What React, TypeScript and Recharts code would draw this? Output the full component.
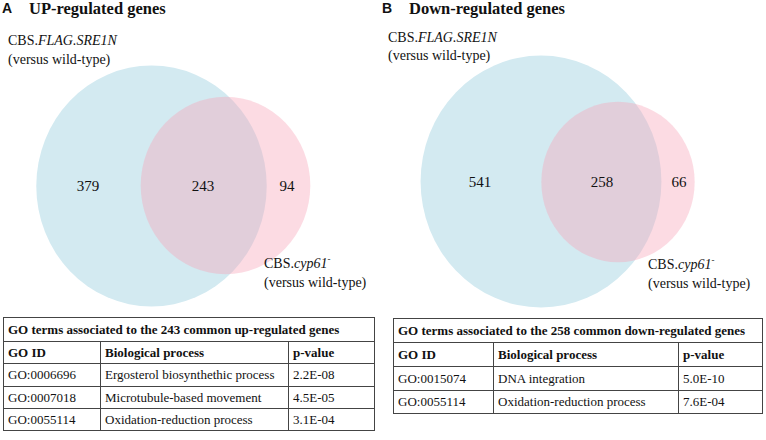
import React from 'react';
import { ScatterChart, Scatter, XAxis, YAxis, ZAxis } from 'recharts';

// ---------- data ----------
const panelLetters = ['A', 'B'];
const panelTitles = ['UP-regulated genes', 'Down-regulated genes'];
const onlySRE1N = [379, 541];
const commonGenes = [243, 258];
const onlyCyp61 = [94, 66];

const upGoIds = ['GO:0006696', 'GO:0007018', 'GO:0055114'];
const upProcesses = ['Ergosterol biosynthethic process', 'Microtubule-based movement', 'Oxidation-reduction process'];
const upPValues = ['2.2E-08', '4.5E-05', '3.1E-04'];

const downGoIds = ['GO:0015074', 'GO:0055114'];
const downProcesses = ['DNA integration', 'Oxidation-reduction process'];
const downPValues = ['5.0E-10', '7.6E-04'];

const tableHeaders = ['GO ID', 'Biological process', 'p-value'];

// ---------- layout (positions / styles) ----------
const W = 766;
const H = 440;
const SERIF = '"Liberation Serif", "Times New Roman", serif';
const SANS = '"Liberation Sans", Arial, sans-serif';
const BLUE = '#d3eaf1';
const PINK = '#f7a6b8';
const ASPECT = 1.046;
// centres of the set ellipses and of the count labels, per panel
const setCentres = [
  { blue: [151.5, 186], pink: [225.5, 185.5], labels: [[88, 186], [203, 186], [287, 186]] },
  { blue: [541, 181.5], pink: [618, 182], labels: [[480, 182], [602, 182], [679, 182]] },
];
const zMax = 1000;
const zRangeA = Math.PI * 4.62 * 4.62 * zMax;
const zRangeB = Math.PI * 4.26 * 4.26 * zMax;

const setData = (i: number) => [
  { x: setCentres[i].blue[0], y: setCentres[i].blue[1], z: onlySRE1N[i] + commonGenes[i], color: BLUE, op: 1 },
  { x: setCentres[i].pink[0], y: setCentres[i].pink[1], z: commonGenes[i] + onlyCyp61[i], color: PINK, op: 0.4 },
];
const countData = (i: number) => [onlySRE1N[i], commonGenes[i], onlyCyp61[i]].map((v, k) => ({
  x: setCentres[i].labels[k][0],
  y: setCentres[i].labels[k][1],
  z: 1,
  v,
}));

const EllipseShape = (props: any) => {
  const { cx, cy, payload } = props;
  let r = props.width != null ? props.width / 2 : NaN;
  if (!isFinite(r)) r = Math.sqrt(Math.max(props.size || 0, 0) / Math.PI);
  return <ellipse cx={cx} cy={cy} rx={r} ry={r * ASPECT} fill={payload.color} fillOpacity={payload.op} />;
};

const CountShape = (props: any) => {
  const { cx, cy, payload } = props;
  return (
    <text x={cx} y={cy} textAnchor="middle" dominantBaseline="central" fontFamily={SERIF} fontSize={15} fill="#111">
      {payload.v}
    </text>
  );
};

const cellStyle: React.CSSProperties = {
  border: '1px solid #444',
  padding: '0 0 0 4px',
  fontFamily: SERIF,
  fontSize: 13,
  color: '#111',
  whiteSpace: 'nowrap',
  overflow: 'hidden',
  verticalAlign: 'middle',
};

function GoTable(props: {
  left: number; top: number; cols: number[]; rowHeights: number[];
  title: string; ids: string[]; procs: string[]; ps: string[];
}) {
  const { left, top, cols, rowHeights, title, ids, procs, ps } = props;
  const width = cols.reduce((a, b) => a + b, 0);
  return (
    <table style={{ position: 'absolute', left, top, width, borderCollapse: 'collapse', tableLayout: 'fixed' }}>
      <colgroup>
        {cols.map((c, i) => <col key={i} style={{ width: c }} />)}
      </colgroup>
      <tbody>
        <tr style={{ height: rowHeights[0] }}>
          <td colSpan={3} style={{ ...cellStyle, fontWeight: 'bold' }}>{title}</td>
        </tr>
        <tr style={{ height: rowHeights[1] }}>
          {tableHeaders.map((h) => <td key={h} style={{ ...cellStyle, fontWeight: 'bold' }}>{h}</td>)}
        </tr>
        {ids.map((id, i) => (
          <tr key={id} style={{ height: rowHeights[i + 2] }}>
            <td style={cellStyle}>{id}</td>
            <td style={cellStyle}>{procs[i]}</td>
            <td style={cellStyle}>{ps[i]}</td>
          </tr>
        ))}
      </tbody>
    </table>
  );
}

const sreLabelPos = [[8, 45, 64], [388, 42, 60]];
const cypLabelPos = [[264, 268, 287], [648, 269, 288]];
const titlePos = [[2, 29], [382, 409]];

export default function App() {
  return (
    <div style={{ position: 'absolute', left: 0, top: 0, width: W, height: H, background: '#fff', overflow: 'hidden' }}>
      <div style={{ position: 'absolute', left: 0, top: 0 }}>
        <ScatterChart width={W} height={H} margin={{ top: 0, right: 0, bottom: 0, left: 0 }}>
          <XAxis type="number" dataKey="x" domain={[0, W]} hide allowDataOverflow />
          <YAxis type="number" dataKey="y" domain={[0, H]} reversed hide allowDataOverflow />
          <ZAxis zAxisId="a" type="number" dataKey="z" domain={[0, zMax]} range={[0, zRangeA]} />
          <ZAxis zAxisId="b" type="number" dataKey="z" domain={[0, zMax]} range={[0, zRangeB]} />
          <Scatter data={setData(0)} zAxisId="a" shape={EllipseShape} isAnimationActive={false} />
          <Scatter data={setData(1)} zAxisId="b" shape={EllipseShape} isAnimationActive={false} />
          <Scatter data={countData(0)} zAxisId="a" shape={CountShape} isAnimationActive={false} />
          <Scatter data={countData(1)} zAxisId="b" shape={CountShape} isAnimationActive={false} />
        </ScatterChart>
      </div>
      <svg width={W} height={H} style={{ position: 'absolute', left: 0, top: 0, pointerEvents: 'none' }}>
        {panelLetters.map((l, i) => (
          <g key={l}>
            <text x={titlePos[i][0]} y={13} fontFamily={SANS} fontWeight="bold" fontSize={14} fill="#111">{l}</text>
            <text x={titlePos[i][1]} y={13.5} fontFamily={SERIF} fontWeight="bold" fontSize={16.5} fill="#111">{panelTitles[i]}</text>
            <text x={sreLabelPos[i][0]} y={sreLabelPos[i][1]} fontFamily={SERIF} fontSize={14} fill="#111">
              CBS.<tspan fontStyle="italic">FLAG.SRE1N</tspan>
            </text>
            <text x={sreLabelPos[i][0]} y={sreLabelPos[i][2]} fontFamily={SERIF} fontSize={14} fill="#111">(versus wild-type)</text>
            <text x={cypLabelPos[i][0]} y={cypLabelPos[i][1]} fontFamily={SERIF} fontSize={14} fill="#111">
              CBS.<tspan fontStyle="italic">cyp61</tspan><tspan fontSize={9} dy={-6}>-</tspan>
            </text>
            <text x={cypLabelPos[i][0]} y={cypLabelPos[i][2]} fontFamily={SERIF} fontSize={14} fill="#111">(versus wild-type)</text>
          </g>
        ))}
      </svg>
      <GoTable
        left={3} top={317} cols={[97, 188, 86]} rowHeights={[24, 22, 23, 22, 22]}
        title={`GO terms associated to the ${commonGenes[0]} common up-regulated genes`}
        ids={upGoIds} procs={upProcesses} ps={upPValues}
      />
      <GoTable
        left={393} top={318} cols={[100, 185, 84]} rowHeights={[24, 24, 24, 23]}
        title={`GO terms associated to the ${commonGenes[1]} common down-regulated genes`}
        ids={downGoIds} procs={downProcesses} ps={downPValues}
      />
    </div>
  );
}
